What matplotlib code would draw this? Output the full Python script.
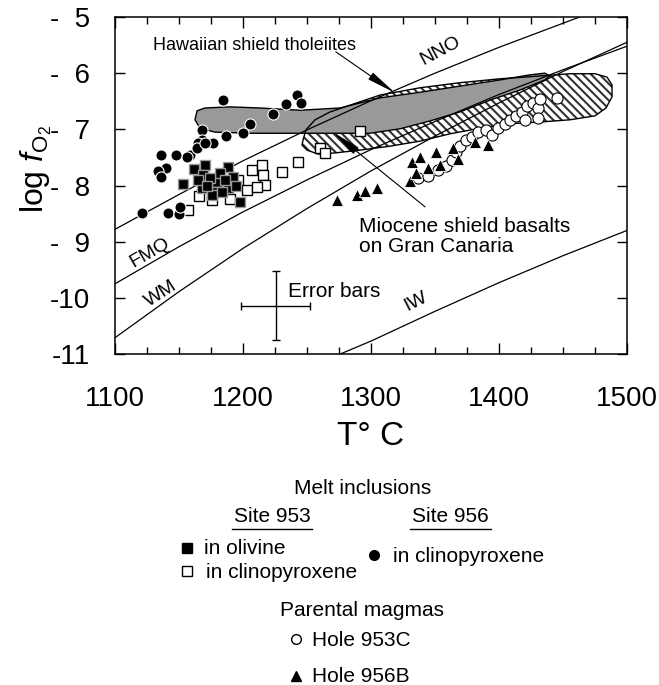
import matplotlib
matplotlib.use('Agg')
import matplotlib.pyplot as plt
from matplotlib.patches import Polygon
from matplotlib.lines import Line2D
import numpy as np

plt.rcParams['font.family'] = ['Liberation Sans', 'DejaVu Sans']
plt.rcParams['mathtext.fontset'] = 'custom'
plt.rcParams['mathtext.rm'] = 'Liberation Sans'
plt.rcParams['mathtext.it'] = 'Liberation Sans:italic'
plt.rcParams['axes.unicode_minus'] = False
plt.rcParams['hatch.linewidth'] = 1.5

# Site 953 melt inclusions in olivine (T C, log fO2)
ol953_T = [1161.7, 1170.3, 1188.3, 1153.1, 1168.0, 1179.7, 1192.2, 1178.1, 1188.3, 1197.7,
           1168.8, 1182.0, 1174.2, 1185.9, 1164.8, 1175.8, 1194.5, 1171.9, 1183.6]
ol953_f = [-7.71, -7.63, -7.67, -7.97, -8.04, -7.94, -7.85, -8.12, -8.04, -8.29,
           -7.81, -7.78, -7.87, -7.90, -7.90, -8.17, -8.01, -8.01, -8.12]

# Site 953 melt inclusions in clinopyroxene
cpx953_T = [1207.0, 1214.8, 1215.6, 1217.2, 1230.5, 1243.0, 1203.1, 1196.1, 1210.9, 1175.8,
            1157.0, 1189.8, 1260.2, 1264.1, 1291.4, 1166.0]
cpx953_f = [-7.72, -7.63, -7.81, -7.99, -7.76, -7.58, -8.08, -7.90, -8.03, -8.26,
            -8.44, -8.24, -7.33, -7.42, -7.03, -8.19]

# Site 956 melt inclusions in clinopyroxene
cpx956_T = [1184.6, 1223.7, 1233.6, 1242.0, 1245.1, 1205.5, 1199.8, 1186.7, 1176.8, 1168.2,
            1168.2, 1165.1, 1158.6, 1156.5, 1147.7, 1135.9, 1139.6, 1133.8, 1135.9, 1120.9,
            1141.6, 1150.0, 1150.8, 1163.8, 1170.3]
cpx956_f = [-6.48, -6.73, -6.55, -6.39, -6.53, -6.90, -7.07, -7.12, -7.24, -7.02,
            -7.19, -7.24, -7.46, -7.50, -7.46, -7.46, -7.68, -7.75, -7.84, -8.49,
            -8.49, -8.51, -8.38, -7.34, -7.25]

# Parental magmas, Hole 953C
h953_T = [1336.7, 1344.5, 1352.3, 1358.6, 1363.3, 1366.4, 1369.5, 1374.2, 1378.9, 1383.6,
          1389.8, 1394.5, 1399.2, 1404.7, 1408.6, 1413.3, 1418.0, 1421.9, 1426.6, 1430.5,
          1430.5, 1432.0, 1420.3, 1445.1]
h953_f = [-7.87, -7.83, -7.72, -7.65, -7.55, -7.40, -7.30, -7.19, -7.14, -7.05,
          -7.01, -7.10, -6.98, -6.90, -6.83, -6.76, -6.69, -6.58, -6.53, -6.62,
          -6.80, -6.46, -6.83, -6.44]

# Parental magmas, Hole 956B
h956_T = [1273.2, 1288.8, 1295.3, 1304.5, 1330.5, 1335.2, 1332.0, 1338.3, 1344.5, 1350.8,
          1353.9, 1364.1, 1368.0, 1381.3, 1391.4]
h956_f = [-8.26, -8.17, -8.09, -8.04, -7.92, -7.78, -7.58, -7.49, -7.69, -7.40,
          -7.63, -7.33, -7.53, -7.23, -7.28]

# buffer curves
nno_T = [1100, 1150, 1200, 1250, 1300, 1350, 1400, 1463]
nno_f = [-8.78, -8.16, -7.56, -7.01, -6.49, -6.00, -5.54, -5.0]
fmq_T = [1100, 1150, 1200, 1250, 1300, 1350, 1400, 1450, 1500]
fmq_f = [-9.75, -9.09, -8.47, -7.90, -7.36, -6.86, -6.38, -5.94, -5.52]
wm_T = [1100, 1150, 1200, 1250, 1300, 1350, 1400, 1450, 1500]
wm_f = [-10.71, -9.89, -9.12, -8.41, -7.74, -7.12, -6.53, -5.97, -5.45]
iw_T = [1276, 1300, 1350, 1400, 1450, 1500]
iw_f = [-11.0, -10.77, -10.24, -9.73, -9.25, -8.80]

# Hawaiian shield tholeiites field outline
haw_T = [1164.1, 1170.3, 1189.8, 1213.3, 1244.5, 1275.8, 1307.0, 1338.3, 1369.5, 1400.8,
         1424.2, 1435.9, 1439.8, 1435.9, 1416.4, 1393.0, 1369.5, 1346.1, 1322.7, 1299.2,
         1268.0, 1236.7, 1205.5, 1178.1, 1166.4, 1162.5]
haw_f = [-6.67, -6.62, -6.60, -6.62, -6.66, -6.62, -6.44, -6.34, -6.23, -6.12,
         -6.03, -6.00, -6.05, -6.12, -6.30, -6.48, -6.69, -6.85, -6.99, -7.07,
         -7.07, -7.07, -7.07, -7.05, -6.98, -6.83]

# Miocene shield basalts (Gran Canaria) field outline
gc_T = [1246.9, 1249.2, 1256.3, 1268.0, 1283.6, 1307.0, 1338.3, 1369.5, 1400.8, 1432.0,
        1455.5, 1475.0, 1484.4, 1488.3, 1488.3, 1483.6, 1475.0, 1455.5, 1432.0, 1408.6,
        1385.2, 1361.7, 1338.3, 1314.8, 1291.4, 1271.9, 1258.6, 1250.0, 1246.1]
gc_f = [-7.19, -7.01, -6.83, -6.69, -6.57, -6.39, -6.26, -6.17, -6.10, -6.05,
        -6.01, -6.01, -6.07, -6.21, -6.42, -6.62, -6.76, -6.83, -6.87, -6.90,
        -6.98, -7.08, -7.21, -7.30, -7.37, -7.42, -7.44, -7.37, -7.28]

# error bar
err_T, err_f = 1225.5, -10.14
err_dT, err_df = 27, 0.61

y_ticks = [-11, -10, -9, -8, -7, -6, -5]
y_ticklabels = ['-11', '-10', '-\u20079', '-\u20078', '-\u20077', '-\u20076', '-\u20075']

W, H = 659, 685


def px(x, y):
    # figure pixel -> figure fraction
    return x / W, 1 - y / H


fig = plt.figure(figsize=(W / 100, H / 100), dpi=100)
ax = fig.add_axes([115 / W, 1 - 354 / H, 512 / W, 337 / H])

# fields
gc_xy = np.column_stack([gc_T, gc_f])
haw_xy = np.column_stack([haw_T, haw_f])
ax.add_patch(Polygon(gc_xy, closed=True, facecolor='white', edgecolor='#333333',
                     hatch='\\\\\\\\', lw=0, zorder=1))
ax.add_patch(Polygon(haw_xy, closed=True, facecolor='#999999', edgecolor='none', zorder=2))
ax.add_patch(Polygon(haw_xy, closed=True, fill=False, edgecolor='black', lw=1.0, zorder=3))
ax.add_patch(Polygon(gc_xy, closed=True, fill=False, edgecolor='black', lw=1.0, zorder=3))

# buffers
for bt, bf in [(nno_T, nno_f), (fmq_T, fmq_f), (wm_T, wm_f), (iw_T, iw_f)]:
    ax.plot(bt, bf, color='black', lw=0.9, zorder=3)

# data
ax.plot(cpx953_T, cpx953_f, 's', ms=7.2, mfc='white', mec='black', mew=1.0, zorder=4)
ax.plot(ol953_T, ol953_f, 's', ms=7.2, mfc='black', mec='#9a9a9a', mew=1.0, zorder=5)
ax.plot(cpx956_T, cpx956_f, 'o', ms=8, mfc='black', mec='white', mew=0.8, zorder=5)
ax.plot(h953_T, h953_f, 'o', ms=8, mfc='white', mec='black', mew=0.8, zorder=4)
ax.plot(h956_T, h956_f, '^', ms=8, mfc='black', mec='white', mew=0.6, zorder=5)

ax.errorbar(err_T, err_f, xerr=err_dT, yerr=err_df, fmt='none', ecolor='black',
            elinewidth=1.0, capsize=3, capthick=1.0, zorder=3)
ax.text(1235.2, -9.88, 'Error bars', fontsize=15, ha='left', va='center')

# buffer labels
ax.text(1354, -5.6, 'NNO', fontsize=14, rotation=28, ha='center', va='center')
ax.text(1127, -9.2, 'FMQ', fontsize=14, rotation=30, ha='center', va='center')
ax.text(1136, -9.93, 'WM', fontsize=14, rotation=33, ha='center', va='center')
ax.text(1335, -10.07, 'IW', fontsize=14, rotation=27, ha='center', va='center')

# field annotations
ax.text(1129.5, -5.5, 'Hawaiian shield tholeiites', fontsize=13, ha='left', va='center')
ax.annotate('', xy=(1318.7, -6.35), xytext=(1272.5, -5.62),
            arrowprops=dict(arrowstyle='-|>,head_length=1.8,head_width=0.25',
                            color='black', lw=0.8, shrinkA=0, shrinkB=0), zorder=6)
ax.text(1290.6, -8.91, 'Miocene shield basalts\non Gran Canaria', fontsize=15,
        ha='left', va='center', linespacing=1.05)
ax.annotate('', xy=(1270.3, -7.05), xytext=(1342.2, -8.38),
            arrowprops=dict(arrowstyle='-|>,head_length=1.8,head_width=0.25',
                            color='black', lw=0.8, shrinkA=0, shrinkB=0), zorder=6)

ax.set_xlim(1100, 1500)
ax.set_ylim(-11, -5)
ax.set_xticks([1100, 1200, 1300, 1400, 1500])
ax.set_xticks(np.arange(1100, 1501, 25), minor=True)
ax.set_yticks(y_ticks)
ax.set_yticklabels(y_ticklabels)
ax.tick_params(which='both', direction='in', top=True, right=True, width=1.0)
ax.tick_params(axis='x', which='major', length=8, pad=23, labelsize=20)
ax.tick_params(axis='x', which='minor', length=5)
ax.tick_params(axis='y', which='major', length=7, pad=18, labelsize=20)
ax.tick_params(axis='y', which='minor', length=0)
for s in ax.spines.values():
    s.set_linewidth(1.1)

ax.set_xlabel('T\u00b0 C', fontsize=24)
ax.xaxis.set_label_coords(0.5, -0.2)
ax.xaxis.label.set_va('top')
ax.set_ylabel(r'log $\mathit{f}_{\mathrm{O}_2}$', fontsize=23)
ax.yaxis.set_label_coords(-0.12, 0.55)

# legend below the plot
fig.text(*px(363, 488), 'Melt inclusions', fontsize=15, ha='center', va='center')
fig.text(*px(272, 517), 'Site 953', fontsize=15, ha='center', va='center')
fig.text(*px(450, 517), 'Site 956', fontsize=15, ha='center', va='center')
for x0, x1 in [(232, 312), (410, 491)]:
    fig.add_artist(Line2D([x0 / W, x1 / W], [1 - 529 / H, 1 - 529 / H], color='black',
                          lw=1.0, transform=fig.transFigure))

legend_items = [
    ((187, 548), 's', 'black', 'black', (204, 548), 'in olivine'),
    ((187, 571), 's', 'white', 'black', (206, 572), 'in clinopyroxene'),
    ((374, 555), 'o', 'black', 'black', (393, 556), 'in clinopyroxene'),
    ((296, 639), 'o', 'white', 'black', (312, 640), 'Hole 953C'),
    ((296, 676), '^', 'black', 'black', (312, 677), 'Hole 956B'),
]
for (mx, my), mk, fc, ec, (tx, ty), label in legend_items:
    fx, fy = px(mx, my)
    fig.add_artist(Line2D([fx], [fy], marker=mk, ms=7, mfc=fc, mec=ec, mew=1.0,
                          ls='none', transform=fig.transFigure))
    fig.text(*px(tx, ty), label, fontsize=15, ha='left', va='center')

fig.text(*px(362, 610), 'Parental magmas', fontsize=15, ha='center', va='center')

fig.savefig('out.png', dpi=100)
